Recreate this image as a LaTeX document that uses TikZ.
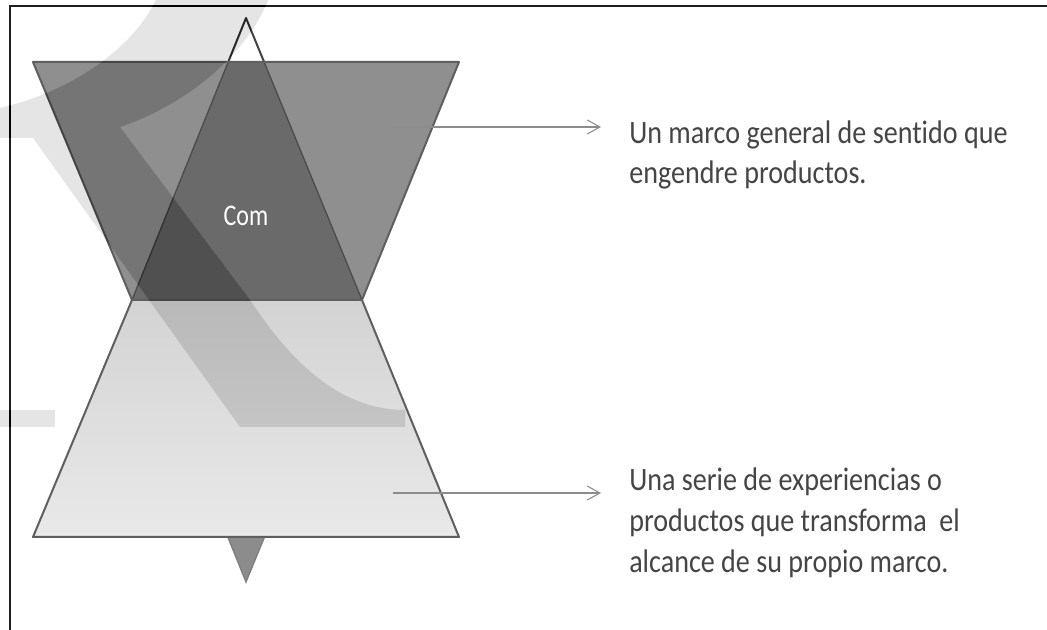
\documentclass[tikz,border=0pt]{standalone}
\usepackage{fontspec}
\usetikzlibrary{arrows.meta}
\newfontfamily\labfont[FakeStretch=0.86,Ligatures=NoCommon]{Carlito}
\newfontfamily\comfont[FakeStretch=0.80]{Carlito}
\definecolor{frameC}{HTML}{1E1E1E}
\definecolor{upFill}{HTML}{8F8F8F}
\definecolor{interFill}{HTML}{6A6A6A}
\definecolor{edgeC}{HTML}{5F5F5F}
\definecolor{lowTop}{HTML}{D3D3D3}
\definecolor{lowBot}{HTML}{E9E9E9}
\definecolor{tipFill}{HTML}{8C8C8C}
\definecolor{arrC}{HTML}{8C8C8C}
\definecolor{txtC}{HTML}{454545}
\definecolor{wmC}{HTML}{1A1A1A}
\tikzset{
  shapeedge/.style={draw=edgeC, line width=1.5pt, line join=round},
  arr/.style={draw=arrC, line width=0.8pt, -{Straight Barb[length=9.5pt,width=10.5pt,line width=0.8pt]}},
  desc/.style={anchor=base west, inner sep=0pt, text=txtC, font=\labfont\fontsize{24.5}{30}\selectfont},
  comlabel/.style={inner sep=0pt, text=white, font=\comfont\fontsize{22.5}{27}\selectfont},
  wmark/.style={fill=wmC}
}
\begin{document}
\begin{tikzpicture}[x=0.75pt, y=-0.75pt]
  \useasboundingbox (0,0) rectangle (1047,630);
  \fill[white] (0,0) rectangle (1047,630);
  % frame
  \draw[frameC, line width=1.6pt] (10,640) -- (10,6) -- (1060,6);
  % downward triangle (only its tip shows below the lower trapezoid)
  \filldraw[fill=tipFill, draw=edgeC!80, line width=1pt] (132,300) -- (362,300) -- (246,582) -- cycle;
  % upward triangle
  \filldraw[fill=white, draw=edgeC!70!black, line width=1.5pt, line join=round] (246,18) -- (362,300) -- (132,300) -- cycle;
  % upper trapezoid
  \filldraw[fill=upFill, shapeedge] (33,62) -- (459,62) -- (362,300) -- (132,300) -- cycle;
  % overlap triangle / upper trapezoid
  \begin{scope}
    \clip (33,62) -- (459,62) -- (362,300) -- (132,300) -- cycle;
    \filldraw[fill=interFill, draw=edgeC!80!black, line width=1pt] (246,18) -- (362,300) -- (132,300) -- cycle;
  \end{scope}
  \draw[edgeC, line width=2.2pt] (33,62) -- (459,62);
  % lower trapezoid
  \shade[top color=lowTop, bottom color=lowBot] (132,300) -- (362,300) -- (459,537) -- (33,537) -- cycle;
  \draw[shapeedge] (132,300) -- (362,300) -- (459,537) -- (33,537) -- cycle;
  % label
  \node[comlabel] (com) at (246,216) {Com};
  % connectors
  \coordinate (a1s) at (393,127);
  \coordinate (a1e) at (601,127);
  \coordinate (a2s) at (393,493);
  \coordinate (a2e) at (601,493);
  \draw[arr] (a1s) -- (a1e);
  \draw[arr] (a2s) -- (a2e);
  % descriptions
  \node[desc] (t1a) at (629,144) {Un marco general de sentido que};
  \node[desc] (t1b) at (629,184) {engendre productos.};
  \node[desc] (t2a) at (629,491) {Una serie de experiencias o};
  \node[desc] (t2b) at (629,532) {productos que transforma~ el};
  \node[desc] (t2c) at (629,573) {alcance de su propio marco.};
  % watermark
  \begin{scope}[blend mode=difference]
    \fill[wmark] (-10,138) -- (33,138) -- (240,427) -- (405,427) -- (405,410)
      .. controls (330,410) and (280,345) .. (250,300) -- (120,127)
      .. controls (185,105) and (250,55) .. (272,-10) -- (160,-10)
      .. controls (140,45) and (70,95) .. (-10,110) -- cycle;
    \fill[wmark] (-10,410) rectangle (55,427);
  \end{scope}
\end{tikzpicture}
\end{document}
